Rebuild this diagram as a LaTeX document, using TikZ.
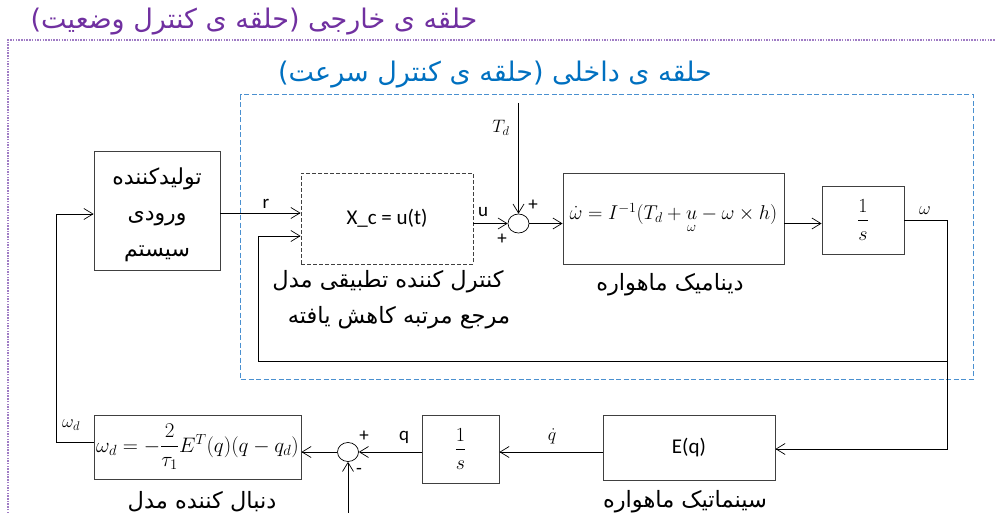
\RequirePackage{fix-cm}
\documentclass[tikz,border=0pt]{standalone}
\usepackage{amsmath}
\usepackage[no-math]{fontspec}
\setmainfont{Carlito}
\newfontfamily\farsi[Script=Arabic]{DejaVu Sans}
\TeXXeTstate=1
\usetikzlibrary{arrows.meta,shapes.geometric}
\definecolor{purp}{HTML}{7030A0}
\definecolor{purpline}{HTML}{A07CC5}
\definecolor{bluet}{HTML}{0070C0}
\definecolor{blueline}{HTML}{4A90D0}
\definecolor{boxgray}{HTML}{404040}
\newcommand{\intfrac}{$\dfrac{1\rule[-5pt]{0pt}{0pt}}{\rule{0pt}{17pt}s}$}
\begin{document}
\begin{tikzpicture}[x=1pt,y=-1pt,
  blk/.style={draw=boxgray, line width=0.9pt, inner sep=0pt, font=\fontsize{21}{24}\selectfont},
  arr/.style={-{Straight Barb[length=9pt,width=11pt]}, line width=0.7pt},
  sumj/.style={draw, ellipse, minimum width=21pt, minimum height=19pt, inner sep=0pt, line width=0.7pt},
  fatext/.style={font=\farsi\fontsize{22.5}{26}\selectfont},
  titletext/.style={font=\farsi\fontsize{27}{30}\selectfont},
  lat/.style={font=\fontsize{19}{22}\selectfont, inner sep=1pt},
  mlab/.style={font=\fontsize{18}{21}\selectfont, inner sep=1pt},
  meq/.style={font=\fontsize{20}{23}\selectfont}
]
\useasboundingbox (0,0) rectangle (995,513);
% outer and inner loop frames
\draw[purpline, line width=1.1pt, dash pattern=on 1.5pt off 1.2pt] (8,513) -- (8,40) -- (995,40);
\draw[blueline, line width=1pt, dash pattern=on 5pt off 2.5pt] (240,95) rectangle (973,379);
\node[titletext, text=purp] at (254,22) {\beginR حلقه ی خارجی (حلقه ی کنترل وضعیت)\endR};
\node[titletext, text=bluet] at (495,75) {\beginR حلقه ی داخلی (حلقه ی کنترل سرعت)\endR};

% blocks
\node[blk, minimum width=126pt, minimum height=119pt,
  label={[align=center, font=\farsi\fontsize{22}{36}\selectfont, yshift=-4pt]center:{\beginR تولیدکننده\endR\\\beginR ورودی\endR\\\beginR سیستم\endR}}] (gen) at (157,210.5) {};
\node[blk, dash pattern=on 4pt off 2pt, minimum width=172pt, minimum height=91pt] (ctrl) at (387,218.5) {X\_c = u(t)};
\node[sumj] (s1) at (518.5,223.5) {};
\node[blk, meq, minimum width=221pt, minimum height=91pt] (dyn) at (673.5,218.5)
  {$\dot\omega = I^{-1}(T_d + \underset{\omega}{u} - \omega\times h)$};
\node[blk, meq, minimum width=82pt, minimum height=68pt] (int1) at (863,220) {\intfrac};
\node[blk, minimum width=172pt, minimum height=65pt] (eq) at (689,447.5) {E(q)};
\node[blk, meq, minimum width=77pt, minimum height=68pt] (int2) at (460.5,449) {\intfrac};
\node[sumj] (s2) at (348,452) {};
\node[blk, font=\fontsize{21}{24}\selectfont, minimum width=207pt, minimum height=64pt] (wd) at (197.5,447)
  {$\omega_d = -\dfrac{2}{\tau_1}E^T(q)(q-q_d)$};

% block captions
\node[fatext] at (388,282) {\beginR کنترل کننده تطبیقی مدل\endR};
\node[fatext] at (399,318) {\beginR مرجع مرتبه کاهش یافته\endR};
\node[fatext] at (670,285) {\beginR دینامیک ماهواره\endR};
\node[fatext] at (685,502) {\beginR سینماتیک ماهواره\endR};
\node[fatext] at (202,502) {\beginR دنبال کننده مدل\endR};

% helper coordinates
\coordinate (rline) at (0,213);
\coordinate (fin) at (0,236);
\coordinate (fbR) at (947,361);
\coordinate (fbL) at (258,361);
\coordinate (tdtop) at (518.5,103);
\coordinate (rc) at (947,449);
\coordinate (bot) at (348,513);
\coordinate (wdl) at (56,442);
\coordinate (genin) at (0,214);

% connectors
\draw[arr] (gen.east |- rline) -- (ctrl.west |- rline);
\node[lat] at (266,204) {r};
\draw[arr] (fbR) -- (fbL) |- (ctrl.west |- fin);
\draw[arr] (ctrl.east |- s1) -- (s1.west);
\node[lat] at (483,212) {u};
\draw[arr] (tdtop) -- (s1.north);
\node[mlab] at (501,128) {$T_d$};
\node[lat] at (533,205) {+};
\node[lat] at (502,239) {+};
\draw[arr] (s1.east) -- (dyn.west |- s1);
\draw[arr] (dyn.east |- s1) -- (int1.west |- s1);
\draw[arr] (int1.east) -| (rc) -- (eq.east |- rc);
\node[mlab] at (925,211) {$\omega$};
\draw[arr] (eq.west |- s2) -- (int2.east |- s2);
\node[mlab] at (552,436) {$\dot q$};
\draw[arr] (int2.west |- s2) -- (s2.east);
\node[lat] at (404,437) {q};
\draw[arr] (bot) -- (s2.south);
\node[lat] at (364,436) {+};
\node[lat] at (359,471) {-};
\draw[arr] (s2.west) -- (wd.east |- s2);
\draw[arr] (wd.west |- wdl) -- (wdl) |- (gen.west |- genin);
\node[mlab] at (71,425) {$\omega_d$};
\end{tikzpicture}
\end{document}
